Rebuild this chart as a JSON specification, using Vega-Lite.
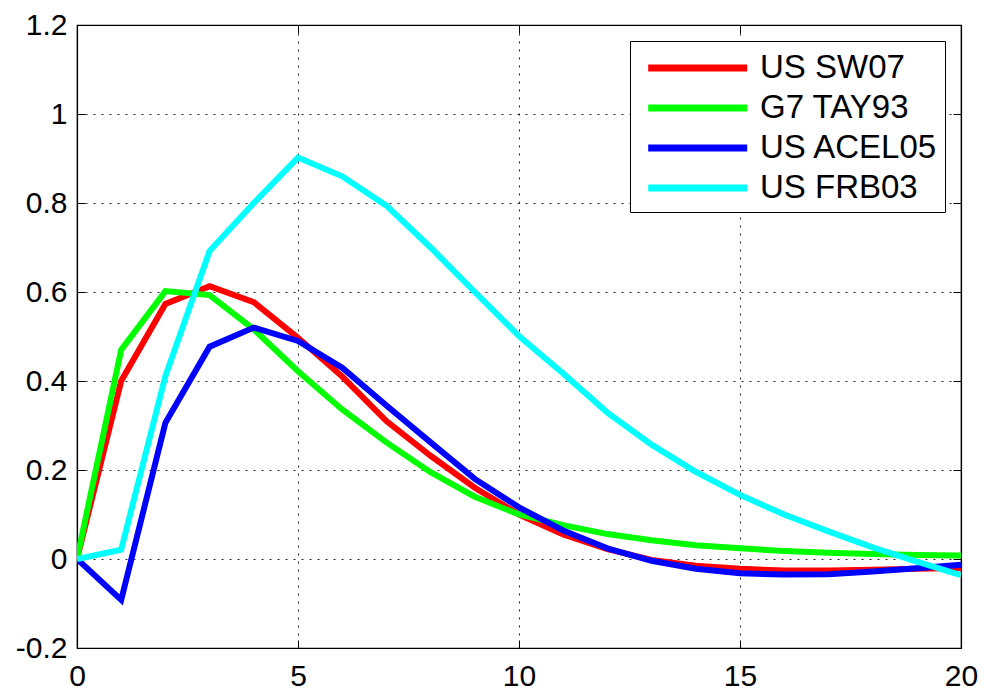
{
  "$schema": "https://vega.github.io/schema/vega-lite/v6.json",
  "width": 884,
  "height": 623,
  "autosize": {"type": "none"},
  "padding": {"left": 77, "top": 25, "right": 21, "bottom": 43},
  "background": "#ffffff",
  "config": {
    "font": "Liberation Sans",
    "view": {"stroke": "#000000", "strokeWidth": 1.2},
    "axis": {
      "labelFont": "Liberation Sans",
      "labelFontSize": 30,
      "labelColor": "#000000",
      "domainColor": "#000000",
      "domainWidth": 1.2,
      "tickColor": "#000000",
      "tickWidth": 1,
      "gridColor": "#000000",
      "gridDash": [2, 6],
      "gridOpacity": 0.85,
      "gridWidth": 1,
      "title": null
    },
    "legend": {
      "labelFont": "Liberation Sans",
      "labelFontSize": 33,
      "labelColor": "#000000"
    }
  },
  "data": {
    "values": [
      {"t": 0, "model": "US SW07", "v": 0},
      {"t": 1, "model": "US SW07", "v": 0.40},
      {"t": 2, "model": "US SW07", "v": 0.573},
      {"t": 3, "model": "US SW07", "v": 0.613},
      {"t": 4, "model": "US SW07", "v": 0.577},
      {"t": 5, "model": "US SW07", "v": 0.497},
      {"t": 6, "model": "US SW07", "v": 0.41},
      {"t": 7, "model": "US SW07", "v": 0.31},
      {"t": 8, "model": "US SW07", "v": 0.232},
      {"t": 9, "model": "US SW07", "v": 0.16},
      {"t": 10, "model": "US SW07", "v": 0.10},
      {"t": 11, "model": "US SW07", "v": 0.055},
      {"t": 12, "model": "US SW07", "v": 0.022},
      {"t": 13, "model": "US SW07", "v": -0.002},
      {"t": 14, "model": "US SW07", "v": -0.015},
      {"t": 15, "model": "US SW07", "v": -0.022},
      {"t": 16, "model": "US SW07", "v": -0.026},
      {"t": 17, "model": "US SW07", "v": -0.026},
      {"t": 18, "model": "US SW07", "v": -0.024},
      {"t": 19, "model": "US SW07", "v": -0.022},
      {"t": 20, "model": "US SW07", "v": -0.02},
      {"t": 0, "model": "G7 TAY93", "v": 0},
      {"t": 1, "model": "G7 TAY93", "v": 0.47},
      {"t": 2, "model": "G7 TAY93", "v": 0.602},
      {"t": 3, "model": "G7 TAY93", "v": 0.593},
      {"t": 4, "model": "G7 TAY93", "v": 0.516},
      {"t": 5, "model": "G7 TAY93", "v": 0.422},
      {"t": 6, "model": "G7 TAY93", "v": 0.336},
      {"t": 7, "model": "G7 TAY93", "v": 0.262},
      {"t": 8, "model": "G7 TAY93", "v": 0.195},
      {"t": 9, "model": "G7 TAY93", "v": 0.14},
      {"t": 10, "model": "G7 TAY93", "v": 0.10},
      {"t": 11, "model": "G7 TAY93", "v": 0.076},
      {"t": 12, "model": "G7 TAY93", "v": 0.056},
      {"t": 13, "model": "G7 TAY93", "v": 0.042},
      {"t": 14, "model": "G7 TAY93", "v": 0.031},
      {"t": 15, "model": "G7 TAY93", "v": 0.024},
      {"t": 16, "model": "G7 TAY93", "v": 0.018},
      {"t": 17, "model": "G7 TAY93", "v": 0.014},
      {"t": 18, "model": "G7 TAY93", "v": 0.011},
      {"t": 19, "model": "G7 TAY93", "v": 0.009},
      {"t": 20, "model": "G7 TAY93", "v": 0.008},
      {"t": 0, "model": "US ACEL05", "v": 0},
      {"t": 1, "model": "US ACEL05", "v": -0.092},
      {"t": 2, "model": "US ACEL05", "v": 0.306},
      {"t": 3, "model": "US ACEL05", "v": 0.477},
      {"t": 4, "model": "US ACEL05", "v": 0.52},
      {"t": 5, "model": "US ACEL05", "v": 0.49},
      {"t": 6, "model": "US ACEL05", "v": 0.43},
      {"t": 7, "model": "US ACEL05", "v": 0.345},
      {"t": 8, "model": "US ACEL05", "v": 0.262},
      {"t": 9, "model": "US ACEL05", "v": 0.18},
      {"t": 10, "model": "US ACEL05", "v": 0.116},
      {"t": 11, "model": "US ACEL05", "v": 0.064},
      {"t": 12, "model": "US ACEL05", "v": 0.024},
      {"t": 13, "model": "US ACEL05", "v": -0.004},
      {"t": 14, "model": "US ACEL05", "v": -0.022},
      {"t": 15, "model": "US ACEL05", "v": -0.032},
      {"t": 16, "model": "US ACEL05", "v": -0.035},
      {"t": 17, "model": "US ACEL05", "v": -0.034},
      {"t": 18, "model": "US ACEL05", "v": -0.028},
      {"t": 19, "model": "US ACEL05", "v": -0.021},
      {"t": 20, "model": "US ACEL05", "v": -0.013},
      {"t": 0, "model": "US FRB03", "v": 0},
      {"t": 1, "model": "US FRB03", "v": 0.021},
      {"t": 2, "model": "US FRB03", "v": 0.411},
      {"t": 3, "model": "US FRB03", "v": 0.692},
      {"t": 4, "model": "US FRB03", "v": 0.80},
      {"t": 5, "model": "US FRB03", "v": 0.902},
      {"t": 6, "model": "US FRB03", "v": 0.86},
      {"t": 7, "model": "US FRB03", "v": 0.794},
      {"t": 8, "model": "US FRB03", "v": 0.70},
      {"t": 9, "model": "US FRB03", "v": 0.60},
      {"t": 10, "model": "US FRB03", "v": 0.501},
      {"t": 11, "model": "US FRB03", "v": 0.417},
      {"t": 12, "model": "US FRB03", "v": 0.329},
      {"t": 13, "model": "US FRB03", "v": 0.257},
      {"t": 14, "model": "US FRB03", "v": 0.196},
      {"t": 15, "model": "US FRB03", "v": 0.144},
      {"t": 16, "model": "US FRB03", "v": 0.10},
      {"t": 17, "model": "US FRB03", "v": 0.062},
      {"t": 18, "model": "US FRB03", "v": 0.026},
      {"t": 19, "model": "US FRB03", "v": -0.006},
      {"t": 20, "model": "US FRB03", "v": -0.036}
    ]
  },
  "layer": [
    {
      "mark": {"type": "line", "strokeWidth": 6, "clip": true},
      "encoding": {
        "x": {
          "field": "t",
          "type": "quantitative",
          "scale": {"domain": [0, 20], "nice": false, "zero": false},
          "axis": {
            "orient": "bottom",
            "values": [0, 5, 10, 15, 20],
            "tickSize": -8,
            "labelPadding": 21,
            "grid": true,
            "labelFlush": false
          }
        },
        "y": {
          "field": "v",
          "type": "quantitative",
          "scale": {"domain": [-0.2, 1.2], "nice": false, "zero": false},
          "axis": {
            "orient": "left",
            "values": [-0.2, 0, 0.2, 0.4, 0.6, 0.8, 1, 1.2],
            "tickSize": -8,
            "labelPadding": 18,
            "grid": true,
            "labelExpr": "'' + round(datum.value * 10) / 10"
          }
        },
        "color": {
          "field": "model",
          "type": "nominal",
          "sort": ["US SW07", "G7 TAY93", "US ACEL05", "US FRB03"],
          "scale": {
            "domain": ["US SW07", "G7 TAY93", "US ACEL05", "US FRB03"],
            "range": ["#ff0000", "#00ff00", "#0000ff", "#00ffff"]
          },
          "legend": {
            "title": " ",
            "titleOrient": "left",
            "titleFontSize": 1,
            "titlePadding": 11,
            "orient": "top-right",
            "offset": 16,
            "padding": 7,
            "strokeColor": "#000000",
            "fillColor": "#ffffff",
            "symbolType": "M-1.2,0H4.8",
            "symbolSize": 1089,
            "symbolStrokeWidth": 7,
            "symbolOffset": 0,
            "labelOffset": 72,
            "rowPadding": 3,
            "labelLimit": 400
          }
        }
      }
    },
    {
      "mark": {"type": "line", "opacity": 0},
      "encoding": {
        "detail": {"field": "model", "type": "nominal"},
        "x": {
          "field": "t",
          "type": "quantitative",
          "axis": {
            "orient": "top",
            "values": [0, 5, 10, 15, 20],
            "tickSize": -8,
            "labels": false,
            "grid": false
          }
        },
        "y": {
          "field": "v",
          "type": "quantitative",
          "axis": {
            "orient": "right",
            "values": [-0.2, 0, 0.2, 0.4, 0.6, 0.8, 1, 1.2],
            "tickSize": -8,
            "labels": false,
            "grid": false
          }
        }
      }
    }
  ],
  "resolve": {"axis": {"x": "independent", "y": "independent"}}
}
